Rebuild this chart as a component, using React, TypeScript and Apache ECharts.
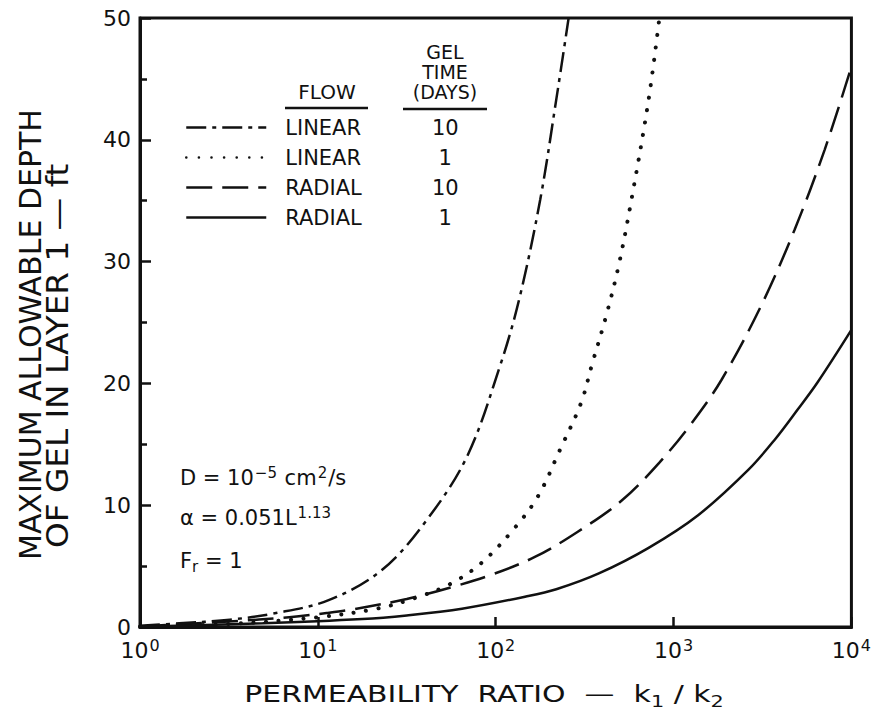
import React, { useEffect, useRef } from 'react';
import * as echarts from 'echarts';

const FONT = '"DejaVu Sans", "Liberation Sans", sans-serif';
const INK = '#111111';

// Axis ticks
const xTickValues = [1, 10, 100, 1000, 10000];
const xTickExponents = ['0', '1', '2', '3', '4'];
const yTickInterval = 10;

// Legend / series names: [flow, gel time (days)]
const flowNames = ['LINEAR', 'LINEAR', 'RADIAL', 'RADIAL'];
const gelDays = ['10', '1', '10', '1'];

// Series values (permeability ratio k1/k2, max depth ft)
const linear10Ratio = [1, 1.66, 3.2, 5.6, 11.5, 23, 41, 69, 105, 135, 178, 219, 257];
const linear10Depth = [0.1, 0.3, 0.6, 1.1, 2.2, 4.7, 8.8, 14.0, 21.3, 26.8, 35.1, 43.3, 50];

const linear1Ratio = [1, 3.16, 10, 21.4, 35.5, 55, 83, 129, 174, 229, 302, 347, 417, 490, 575, 724, 832];
const linear1Depth = [0.05, 0.25, 0.8, 1.5, 2.4, 3.5, 5.25, 8.2, 10.8, 14.5, 18.4, 21.5, 25.5, 29.6, 34.8, 43.3, 50];

const radial10Ratio = [1, 3.16, 6.9, 11.2, 16.2, 31.6, 57.5, 91, 166, 288, 513, 832, 1259, 1862, 3090, 4786, 7079, 10000];
const radial10Depth = [0.05, 0.45, 0.8, 1.15, 1.48, 2.3, 3.3, 4.2, 5.75, 7.8, 10.4, 13.5, 16.7, 20.3, 26.3, 32.6, 39.2, 46];

const radial1Ratio = [1, 4.9, 17.8, 31.6, 64.6, 148, 219, 380, 724, 1380, 2630, 3715, 5012, 6457, 10000];
const radial1Depth = [0.02, 0.3, 0.65, 0.95, 1.5, 2.5, 3.1, 4.4, 6.5, 9.2, 12.9, 15.4, 17.9, 20.1, 24.4];

const seriesRatios = [linear10Ratio, linear1Ratio, radial10Ratio, radial1Ratio];
const seriesDepths = [linear10Depth, linear1Depth, radial10Depth, radial1Depth];

const lineStyles: any[] = [
  { type: [20, 6, 4, 6], width: 2.5, cap: 'butt' },
  { type: [0.1, 12.5], width: 4, cap: 'round' },
  { type: [26, 10], width: 2.5, cap: 'butt' },
  { type: 'solid', width: 2.5, cap: 'butt' },
];

export default function App() {
  const ref = useRef<HTMLDivElement>(null);

  useEffect(() => {
    if (!ref.current) return;
    const chart = echarts.init(ref.current, null, { renderer: 'svg' });

    const series = seriesRatios.map((ratios, s) => ({
      name: `${flowNames[s]} ${gelDays[s]}`,
      type: 'line',
      smooth: 0.35,
      symbol: 'none',
      clip: true,
      data: ratios.map((r, i) => [r, seriesDepths[s][i]]),
      lineStyle: { color: INK, ...lineStyles[s] },
      itemStyle: { color: INK },
      emphasis: { disabled: true },
    }));

    const textBase = { fontFamily: FONT, fill: INK };

    const option: any = {
      animation: false,
      backgroundColor: '#ffffff',
      grid: {
        left: 140,
        right: 20,
        top: 18,
        bottom: 92,
        show: true,
        borderColor: INK,
        borderWidth: 3,
        backgroundColor: 'transparent',
      },
      xAxis: {
        type: 'log',
        logBase: 10,
        min: xTickValues[0],
        max: xTickValues[xTickValues.length - 1],
        axisLine: { show: true, lineStyle: { color: INK, width: 3 } },
        axisTick: { show: true, inside: true, length: 10, lineStyle: { color: INK, width: 2.5 } },
        minorTick: { show: false },
        splitLine: { show: false },
        minorSplitLine: { show: false },
        axisLabel: {
          margin: 10,
          formatter: (v: number) => {
            const idx = xTickValues.findIndex((t) => Math.abs(t - v) / t < 1e-6);
            return `{b|10}{s|${xTickExponents[idx] ?? ''}}`;
          },
          rich: {
            b: { fontFamily: FONT, fontSize: 22, color: INK, lineHeight: 26 },
            s: { fontFamily: FONT, fontSize: 16, color: INK, lineHeight: 16, verticalAlign: 'top', padding: [0, 0, 0, 1] },
          },
        },
      },
      yAxis: {
        type: 'value',
        min: 0,
        max: 50,
        interval: yTickInterval,
        axisLine: { show: true, lineStyle: { color: INK, width: 3 } },
        axisTick: { show: true, inside: true, length: 11, lineStyle: { color: INK, width: 2.5 } },
        minorTick: { show: true, splitNumber: 2, length: 7, lineStyle: { color: INK, width: 2.5 } },
        splitLine: { show: false },
        axisLabel: { fontFamily: FONT, fontSize: 22, color: INK, margin: 9 },
      },
      legend: {
        orient: 'vertical',
        left: 185,
        top: 117,
        padding: 0,
        itemWidth: 80,
        itemHeight: 20,
        itemGap: 9,
        selectedMode: false,
        lineStyle: { width: 2.5 },
        itemStyle: { color: 'transparent', borderColor: 'transparent', borderWidth: 0, opacity: 0 },
        data: series.map((s) => s.name),
        formatter: (name: string) => {
          const [f, d] = name.split(' ');
          return `{a|${f}}{b|${d}}`;
        },
        textStyle: {
          fontFamily: FONT,
          fontSize: 21,
          color: INK,
          lineHeight: 20,
          padding: [0, 0, 0, 14],
          rich: {
            a: { fontFamily: FONT, fontSize: 21, color: INK, width: 120, lineHeight: 20 },
            b: { fontFamily: FONT, fontSize: 21, color: INK, width: 80, align: 'center', lineHeight: 20 },
          },
        },
      },
      graphic: [
        // Legend headers
        { type: 'text', x: 327, y: 92, style: { ...textBase, text: 'FLOW', fontSize: 20, align: 'center', verticalAlign: 'middle' } },
        { type: 'line', shape: { x1: 285, y1: 108, x2: 368, y2: 108 }, style: { stroke: INK, lineWidth: 2.5 } },
        {
          type: 'text', x: 445, y: 72,
          style: { ...textBase, text: 'GEL\nTIME\n(DAYS)', fontSize: 19, lineHeight: 20, align: 'center', verticalAlign: 'middle' },
        },
        { type: 'line', shape: { x1: 403, y1: 109, x2: 487, y2: 109 }, style: { stroke: INK, lineWidth: 2.5 } },
        // Parameters
        {
          type: 'text', x: 180, y: 478,
          style: {
            text: '{n|D = 10}{s|−5}{n| cm}{s|2}{n|/s}', align: 'left', verticalAlign: 'middle',
            rich: {
              n: { fontFamily: FONT, fontSize: 21, fill: INK, color: INK, lineHeight: 26 },
              s: { fontFamily: FONT, fontSize: 15, fill: INK, color: INK, lineHeight: 14, verticalAlign: 'top', padding: [0, 1, 0, 1] },
            },
          },
        },
        {
          type: 'text', x: 180, y: 518,
          style: {
            text: '{n|α = 0.051L}{s|1.13}', align: 'left', verticalAlign: 'middle',
            rich: {
              n: { fontFamily: FONT, fontSize: 21, fill: INK, color: INK, lineHeight: 26 },
              s: { fontFamily: FONT, fontSize: 15, fill: INK, color: INK, lineHeight: 14, verticalAlign: 'top', padding: [0, 0, 0, 1] },
            },
          },
        },
        {
          type: 'text', x: 180, y: 561,
          style: {
            text: '{n|F}{u|r}{n| = 1}', align: 'left', verticalAlign: 'middle',
            rich: {
              n: { fontFamily: FONT, fontSize: 21, fill: INK, color: INK, lineHeight: 26 },
              u: { fontFamily: FONT, fontSize: 15, fill: INK, color: INK, lineHeight: 14, verticalAlign: 'bottom' },
            },
          },
        },
        // Axis titles
        {
          type: 'text', x: 484, y: 694, scaleX: 1.3,
          style: {
            text: '{n|PERMEABILITY  RATIO  —  k}{u|1}{n| / k}{u|2}', align: 'center', verticalAlign: 'middle',
            rich: {
              n: { fontFamily: FONT, fontSize: 23, fill: INK, color: INK, lineHeight: 30 },
              u: { fontFamily: FONT, fontSize: 16, fill: INK, color: INK, lineHeight: 16, verticalAlign: 'bottom' },
            },
          },
        },
        {
          type: 'text', x: 30, y: 560, rotation: Math.PI / 2,
          style: { ...textBase, text: 'MAXIMUM ALLOWABLE DEPTH', fontSize: 30, align: 'left', verticalAlign: 'middle' },
        },
        {
          type: 'text', x: 57, y: 548, rotation: Math.PI / 2, scaleX: 1.09,
          style: { ...textBase, text: 'OF GEL IN LAYER 1 — ft', fontSize: 30, align: 'left', verticalAlign: 'middle' },
        },
      ],
      series,
    };

    chart.setOption(option);
    return () => chart.dispose();
  }, []);

  return (
    <div
      ref={ref}
      style={{ position: 'fixed', left: 0, top: 0, width: 874, height: 719, background: '#ffffff' }}
    />
  );
}
